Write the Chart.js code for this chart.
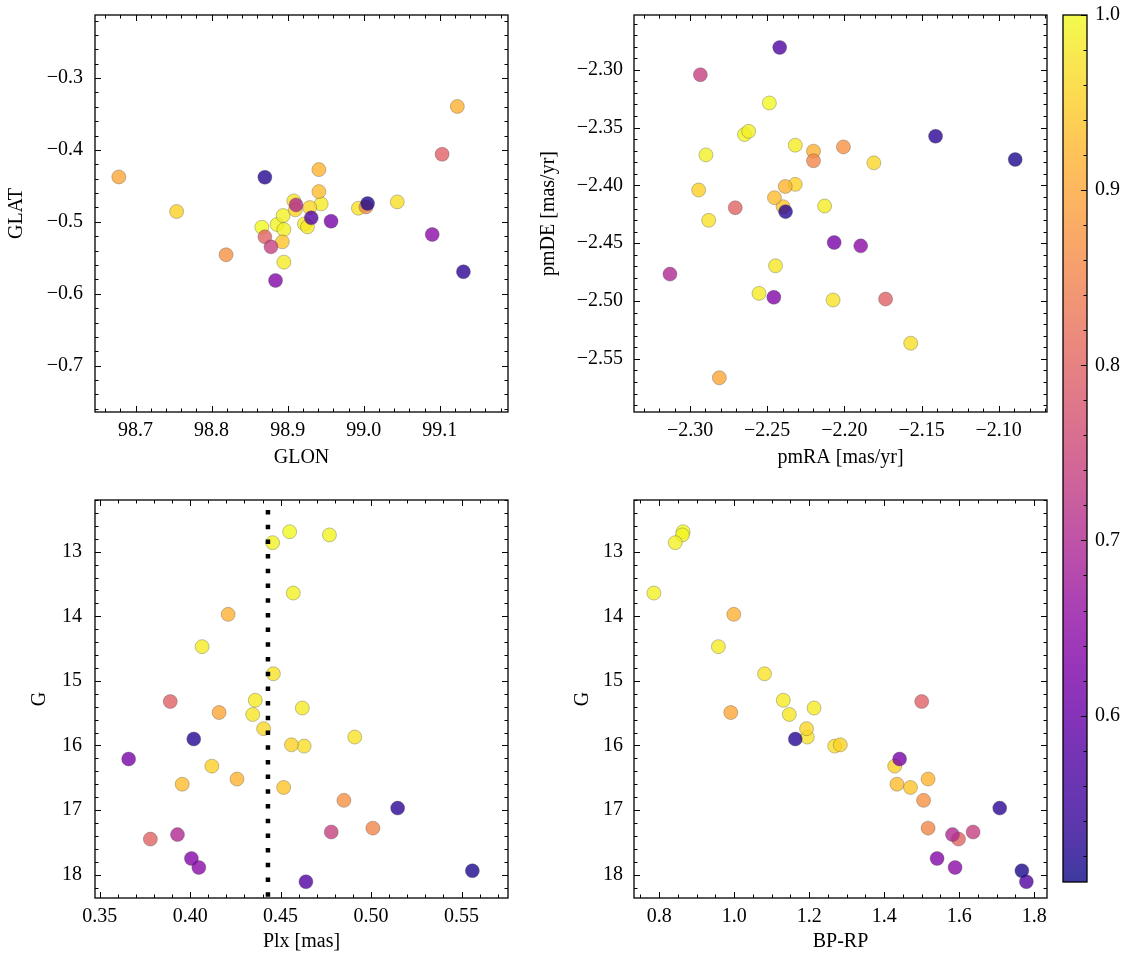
<!DOCTYPE html>
<html>
<head>
<meta charset="utf-8">
<script src="https://cdn.jsdelivr.net/npm/chart.js@4.4.1/dist/chart.umd.min.js"></script>
<style>
  body { margin: 0; background: #fff; }
  #wrap { position: relative; width: 1133px; height: 965px; }
  canvas { position: absolute; }
</style>
</head>
<body>
<div id="wrap">
  <canvas id="c1" width="520" height="480" style="left:0;top:0"></canvas>
  <canvas id="c2" width="530" height="480" style="left:530px;top:0"></canvas>
  <canvas id="c3" width="520" height="485" style="left:0;top:480px"></canvas>
  <canvas id="c4" width="530" height="485" style="left:530px;top:480px"></canvas>
  <canvas id="cb" width="78" height="900" style="left:1055px;top:0"></canvas>
</div>
<script>
// one entry per star, ordered by membership probability (highest first)
const glon = [98.866, 98.886, 98.894, 98.895, 98.895, 98.944, 98.922, 98.926, 98.908, 98.993, 99.044,
              98.929, 98.910, 98.754, 98.893, 98.941, 98.941, 99.123, 98.678, 98.819, 99.003,
              98.870, 99.103, 98.878, 98.911, 99.090, 98.884, 98.957, 98.931, 99.131, 98.870, 99.005];
const glat = [-0.5074, -0.5037, -0.4912, -0.5106, -0.556, -0.475, -0.5028, -0.507, -0.4708, -0.481, -0.4722,
              -0.4801, -0.4833, -0.4856, -0.5278, -0.4579, -0.4273, -0.3394, -0.4375, -0.5458, -0.4792,
              -0.5208, -0.406, -0.5347, -0.4764, -0.5176, -0.5815, -0.4991, -0.4944, -0.5694, -0.438, -0.4745];
const pmra = [-2.2486, -2.2647, -2.262, -2.2897, -2.2318, -2.2553, -2.2128, -2.2446, -2.2879, -2.2073, -2.157,
              -2.1809, -2.2318, -2.2944, -2.2397, -2.2453, -2.2383, -2.22, -2.281, -2.2006, -2.22,
              -2.2707, -2.1733, -2.2933, -2.313, -2.1894, -2.2457, -2.2066, -2.2419, -2.1409, -2.2381, -2.0893];
const pmde = [-2.3287, -2.356, -2.3532, -2.3736, -2.3652, -2.4934, -2.4178, -2.4695, -2.4302, -2.4991, -2.5365,
              -2.3805, -2.3991, -2.404, -2.4184, -2.4106, -2.4009, -2.3704, -2.5664, -2.3667, -2.3787,
              -2.4193, -2.4983, -2.3043, -2.4767, -2.4523, -2.4968, -2.4494, -2.2807, -2.3575, -2.4227, -2.3776];
const plx  = [0.455, 0.477, 0.4456, 0.457, 0.4066, 0.462, 0.436, 0.4346, 0.446, 0.491, 0.463,
              0.4406, 0.456, 0.412, 0.4517, 0.3956, 0.4259, 0.421, 0.416, 0.485, 0.501,
              0.378, 0.389, 0.478, 0.393, 0.4048, 0.4007, 0.366, 0.464, 0.5147, 0.402, 0.556];
const gmag = [12.69, 12.74, 12.86, 13.64, 14.47, 15.42, 15.30, 15.52, 14.89, 15.87, 16.01,
              15.74, 15.99, 16.32, 16.65, 16.60, 16.52, 13.97, 15.49, 16.85, 17.28,
              17.45, 15.32, 17.34, 17.38, 17.89, 17.75, 16.21, 18.11, 16.97, 15.90, 17.94];
const bprp = [0.864, 0.862, 0.843, 0.786, 0.958, 1.213, 1.131, 1.147, 1.081, 1.195, 1.268,
              1.193, 1.283, 1.428, 1.47, 1.434, 1.517, 0.999, 0.991, 1.505, 1.517,
              1.598, 1.500, 1.637, 1.582, 1.589, 1.541, 1.441, 1.779, 1.708, 1.163, 1.767];
const prob = [1.00, 0.995, 0.99, 0.99, 0.985, 0.985, 0.985, 0.98, 0.975, 0.975, 0.97,
              0.96, 0.955, 0.95, 0.94, 0.93, 0.92, 0.915, 0.90, 0.87, 0.855,
              0.80, 0.795, 0.74, 0.70, 0.645, 0.635, 0.62, 0.575, 0.53, 0.525, 0.515];

const glonTicks = [98.7, 98.8, 98.9, 99.0, 99.1];
const glatTicks = [-0.3, -0.4, -0.5, -0.6, -0.7];
const pmraTicks = [-2.30, -2.25, -2.20, -2.15, -2.10];
const pmdeTicks = [-2.30, -2.35, -2.40, -2.45, -2.50, -2.55];
const plxTicks = [0.35, 0.40, 0.45, 0.50, 0.55];
const gTicks = [13, 14, 15, 16, 17, 18];
const bprpTicks = [0.8, 1.0, 1.2, 1.4, 1.6, 1.8];
const probTicks = [0.6, 0.7, 0.8, 0.9, 1.0];
const plxMean = 0.443;
const probMin = 0.505, probMax = 1.0;

const plasmaStops = ['#0d0887', '#2c0594', '#41049d', '#5402a3', '#6a00a8', '#7e03a8', '#8f0da4',
  '#a11b9b', '#b12a90', '#bf3984', '#cc4778', '#d6556d', '#e16462', '#ea7457', '#f2844b',
  '#f89540', '#fca636', '#feb72d', '#fcce25', '#f7e225', '#f0f921'];
function hexRgb(h) { return [1, 3, 5].map(i => parseInt(h.substr(i, 2), 16)); }
function plasma(t) {
  t = Math.min(1, Math.max(0, t));
  const n = plasmaStops.length - 1;
  const i = Math.min(n - 1, Math.floor(t * n));
  const f = t * n - i;
  const a = hexRgb(plasmaStops[i]), b = hexRgb(plasmaStops[i + 1]);
  return [0, 1, 2].map(k => Math.round(a[k] + (b[k] - a[k]) * f));
}
const ALPHA = 0.8;
const pointColors = prob.map(p => 'rgba(' + plasma((p - probMin) / (probMax - probMin)).join(',') + ',' + ALPHA + ')');

const FONT = { family: "'Liberation Serif', 'Times New Roman', serif", size: 20 };
const fmt = d => v => v.toFixed(d).replace('-', '\u2212');

// inward ticks on all four sides + black frame, matplotlib style
const frame = {
  id: 'frame',
  afterDatasetsDraw(chart, args, o) {
    const { ctx, chartArea: a, scales } = chart;
    ctx.save();
    if (o.vline !== undefined) {
      const px = scales.x.getPixelForValue(o.vline);
      ctx.beginPath();
      ctx.setLineDash([4.5, 10.2]);
      ctx.lineDashOffset = 4.7;
      ctx.lineWidth = 4.5;
      ctx.strokeStyle = '#000';
      ctx.moveTo(px, a.top);
      ctx.lineTo(px, a.bottom);
      ctx.stroke();
      ctx.setLineDash([]);
    }
    ctx.strokeStyle = '#000';
    ctx.lineWidth = 1;
    const sides = o.sides || ['top', 'bottom', 'left', 'right'];
    const ticksOf = (scale, step) => {
      const major = scale.ticks.map(t => t.value);
      const minor = [];
      const k0 = Math.ceil(scale.min / step - 1e-6), k1 = Math.floor(scale.max / step + 1e-6);
      for (let k = k0; k <= k1; k++) {
        const v = k * step;
        if (!major.some(m => Math.abs(m - v) < step / 10)) minor.push(v);
      }
      return { major, minor };
    };
    const draw = (scale, step, horiz) => {
      const { major, minor } = ticksOf(scale, step);
      [[major, o.major || 6], [minor, o.minor || 3.5]].forEach(([vals, len]) => {
        vals.forEach(v => {
          const p = Math.round(scale.getPixelForValue(v)) + 0.5;
          ctx.beginPath();
          if (horiz) {
            if (sides.includes('bottom')) { ctx.moveTo(p, a.bottom); ctx.lineTo(p, a.bottom - len); }
            if (sides.includes('top')) { ctx.moveTo(p, a.top); ctx.lineTo(p, a.top + len); }
          } else {
            if (sides.includes('left')) { ctx.moveTo(a.left, p); ctx.lineTo(a.left + len, p); }
            if (sides.includes('right')) { ctx.moveTo(a.right, p); ctx.lineTo(a.right - len, p); }
          }
          ctx.stroke();
        });
      });
    };
    if (o.xMinor) draw(scales.x, o.xMinor, true);
    if (o.yMinor) draw(scales.y, o.yMinor, false);
    ctx.lineWidth = 1.3;
    ctx.strokeRect(a.left, a.top, a.right - a.left, a.bottom - a.top);
    ctx.restore();
  }
};

// fixed axis boxes so the plot areas land where the reference has them
const fixX = h => s => { s.height = h; s.paddingLeft = 0; s.paddingRight = 0; };
const fixY = w => s => { s.width = w; s.paddingTop = 0; s.paddingBottom = 0; };

function scatterPanel(id, xs, ys, c) {
  const pts = xs.map((x, i) => ({ x: x, y: ys[i] }));
  new Chart(document.getElementById(id), {
    type: 'scatter',
    data: {
      datasets: [{
        data: pts,
        backgroundColor: pointColors,
        borderColor: 'rgba(70,70,70,0.55)',
        borderWidth: 0.6,
        pointRadius: 7,
        pointHoverRadius: 7
      }]
    },
    options: {
      responsive: false,
      animation: false,
      devicePixelRatio: 1,
      events: [],
      layout: { padding: { top: c.top, right: c.right, left: 0, bottom: 0 } },
      scales: {
        x: {
          type: 'linear', min: c.xRange[0], max: c.xRange[1],
          grid: { display: false, drawTicks: false }, border: { display: false },
          afterBuildTicks: s => { s.ticks = c.xTicks.map(v => ({ value: v })); },
          afterFit: fixX(c.xBox),
          ticks: { callback: fmt(c.xDec), font: FONT, color: '#000', padding: 7, maxRotation: 0, autoSkip: false },
          title: { display: true, text: c.xTitle, font: FONT, color: '#000', padding: { top: 0, bottom: c.xTitlePad } }
        },
        y: {
          type: 'linear', min: c.yRange[0], max: c.yRange[1], reverse: !!c.yReverse,
          grid: { display: false, drawTicks: false }, border: { display: false },
          afterBuildTicks: s => { s.ticks = c.yTicks.map(v => ({ value: v })); },
          afterFit: fixY(c.yBox),
          ticks: { callback: fmt(c.yDec), font: FONT, color: '#000', padding: c.yPad, autoSkip: false },
          title: { display: true, text: c.yTitle, font: FONT, color: '#000', padding: { top: c.yTitlePad, bottom: 0 } }
        }
      },
      plugins: {
        legend: { display: false },
        tooltip: { enabled: false },
        frame: { xMinor: c.xMinor, yMinor: c.yMinor, vline: c.vline }
      }
    },
    plugins: [frame]
  });
}

scatterPanel('c1', glon, glat, {
  top: 15, right: 12, xBox: 68, yBox: 95,
  xRange: [98.6467, 99.1896], yRange: [-0.7645, -0.2122],
  xTicks: glonTicks, yTicks: glatTicks, xDec: 1, yDec: 1, xMinor: 0.02, yMinor: 0.02,
  xTitle: 'GLON', yTitle: 'GLAT', xTitlePad: 10, yTitlePad: 5, yPad: 12
});
scatterPanel('c2', pmra, pmde, {
  top: 15, right: 13, xBox: 68, yBox: 104,
  xRange: [-2.3363, -2.0687], yRange: [-2.596, -2.2526],
  xTicks: pmraTicks, yTicks: pmdeTicks, xDec: 2, yDec: 2, xMinor: 0.01, yMinor: 0.01,
  xTitle: 'pmRA [mas/yr]', yTitle: 'pmDE [mas/yr]', xTitlePad: 10, yTitlePad: 7, yPad: 11
});
scatterPanel('c3', plx, gmag, {
  top: 20, right: 12, xBox: 67, yBox: 95,
  xRange: [0.3474, 0.5757], yRange: [12.199, 18.362], yReverse: true,
  xTicks: plxTicks, yTicks: gTicks, xDec: 2, yDec: 0, xMinor: 0.01, yMinor: 0.2,
  xTitle: 'Plx [mas]', yTitle: 'G', xTitlePad: 11, yTitlePad: 28, yPad: 13,
  vline: plxMean
});
scatterPanel('c4', bprp, gmag, {
  top: 20, right: 13, xBox: 67, yBox: 104,
  xRange: [0.733, 1.834], yRange: [12.199, 18.362], yReverse: true,
  xTicks: bprpTicks, yTicks: gTicks, xDec: 1, yDec: 0, xMinor: 0.05, yMinor: 0.2,
  xTitle: 'BP-RP', yTitle: 'G', xTitlePad: 11, yTitlePad: 41, yPad: 11
});

// colour bar
const cbFill = {
  id: 'cbFill',
  beforeDatasetsDraw(chart) {
    const { ctx, chartArea: a, scales } = chart;
    const y0 = scales.y.getPixelForValue(probMax), y1 = scales.y.getPixelForValue(probMin);
    const g = ctx.createLinearGradient(0, y1, 0, y0);
    for (let i = 0; i <= 40; i++) {
      g.addColorStop(i / 40, 'rgba(' + plasma(i / 40).join(',') + ',' + ALPHA + ')');
    }
    ctx.save();
    ctx.fillStyle = g;
    ctx.fillRect(a.left, a.top, a.right - a.left, a.bottom - a.top);
    ctx.restore();
  }
};
new Chart(document.getElementById('cb'), {
  type: 'scatter',
  data: { datasets: [] },
  options: {
    responsive: false,
    animation: false,
    devicePixelRatio: 1,
    events: [],
    layout: { padding: { top: 15, bottom: 18, left: 8, right: 0 } },
    scales: {
      x: { display: false, min: 0, max: 1 },
      y: {
        position: 'right', min: probMin, max: probMax,
        grid: { display: false, drawTicks: false }, border: { display: false },
        afterBuildTicks: s => { s.ticks = probTicks.map(v => ({ value: v })); },
        afterFit: fixY(46),
        ticks: { callback: fmt(1), font: FONT, color: '#000', padding: 8, autoSkip: false }
      }
    },
    plugins: {
      legend: { display: false },
      tooltip: { enabled: false },
      frame: { yMinor: 0.02, sides: ['right'] }
    }
  },
  plugins: [cbFill, frame]
});
</script>
</body>
</html>
